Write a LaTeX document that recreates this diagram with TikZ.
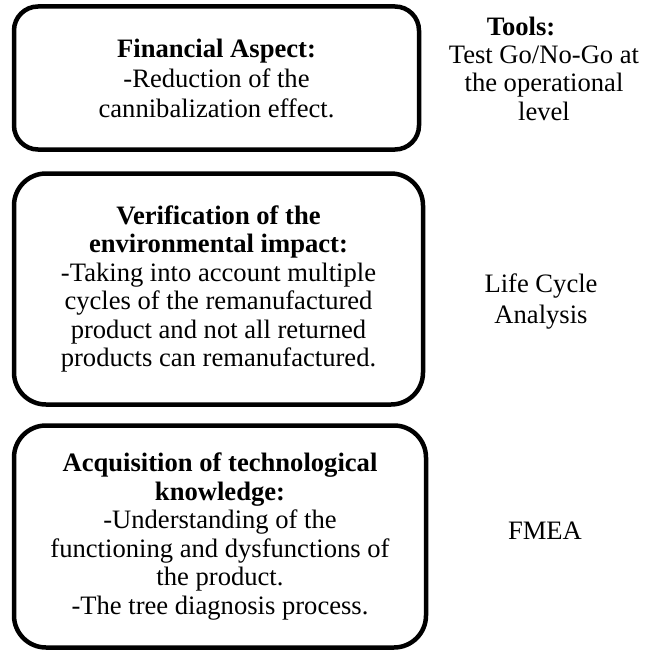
\documentclass[tikz,border=0pt]{standalone}
\usepackage{fontspec}
\setmainfont{Liberation Serif}
\usetikzlibrary{positioning}

\begin{document}
\begin{tikzpicture}[
    x=1pt, y=-1pt,
    every node/.style={font=\fontsize{26.6}{28.5}\selectfont},
    aspect/.style={rectangle, draw, line width=4.5pt, rounded corners=32pt, align=center},
    tool/.style={align=center}
]
\useasboundingbox (0,0) rectangle (655,650);

% Aspect boxes
\node[aspect, rounded corners=24pt, minimum width=405pt, minimum height=143pt,
      font=\fontsize{26.6}{30}\selectfont] (fin) at (216.5,78)
    {\textbf{Financial Aspect:} \\ -Reduction of the \\ cannibalization effect.};
\node[aspect, minimum width=409pt, minimum height=231pt, below=19.5pt of fin.south west, anchor=north west] (env)
    {\textbf{Verification of the} \\ \textbf{environmental impact:} \\ -Taking into account multiple \\
     cycles of the remanufactured \\ product and not all returned \\ products can remanufactured.};
\node[aspect, minimum width=412pt, minimum height=222pt, below=16.5pt of env.south west, anchor=north west] (know)
    {\textbf{Acquisition of technological} \\ \textbf{knowledge:} \\ -Understanding of the \\
     functioning and dysfunctions of \\ the product. \\ -The tree diagnosis process.};

% Tools column
\node[tool, inner sep=1pt] (toolshead) at (521,26) {\textbf{Tools:}};
\node[tool, inner sep=1pt] (gonogo) at (544,83) {Test Go/No-Go at \\ the operational \\ level};
\node[tool, font=\fontsize{26.6}{31}\selectfont] (lca) at (541,302) {Life Cycle \\ Analysis};
\node[tool] (fmea) at (545,531) {FMEA};

\end{tikzpicture}
\end{document}
